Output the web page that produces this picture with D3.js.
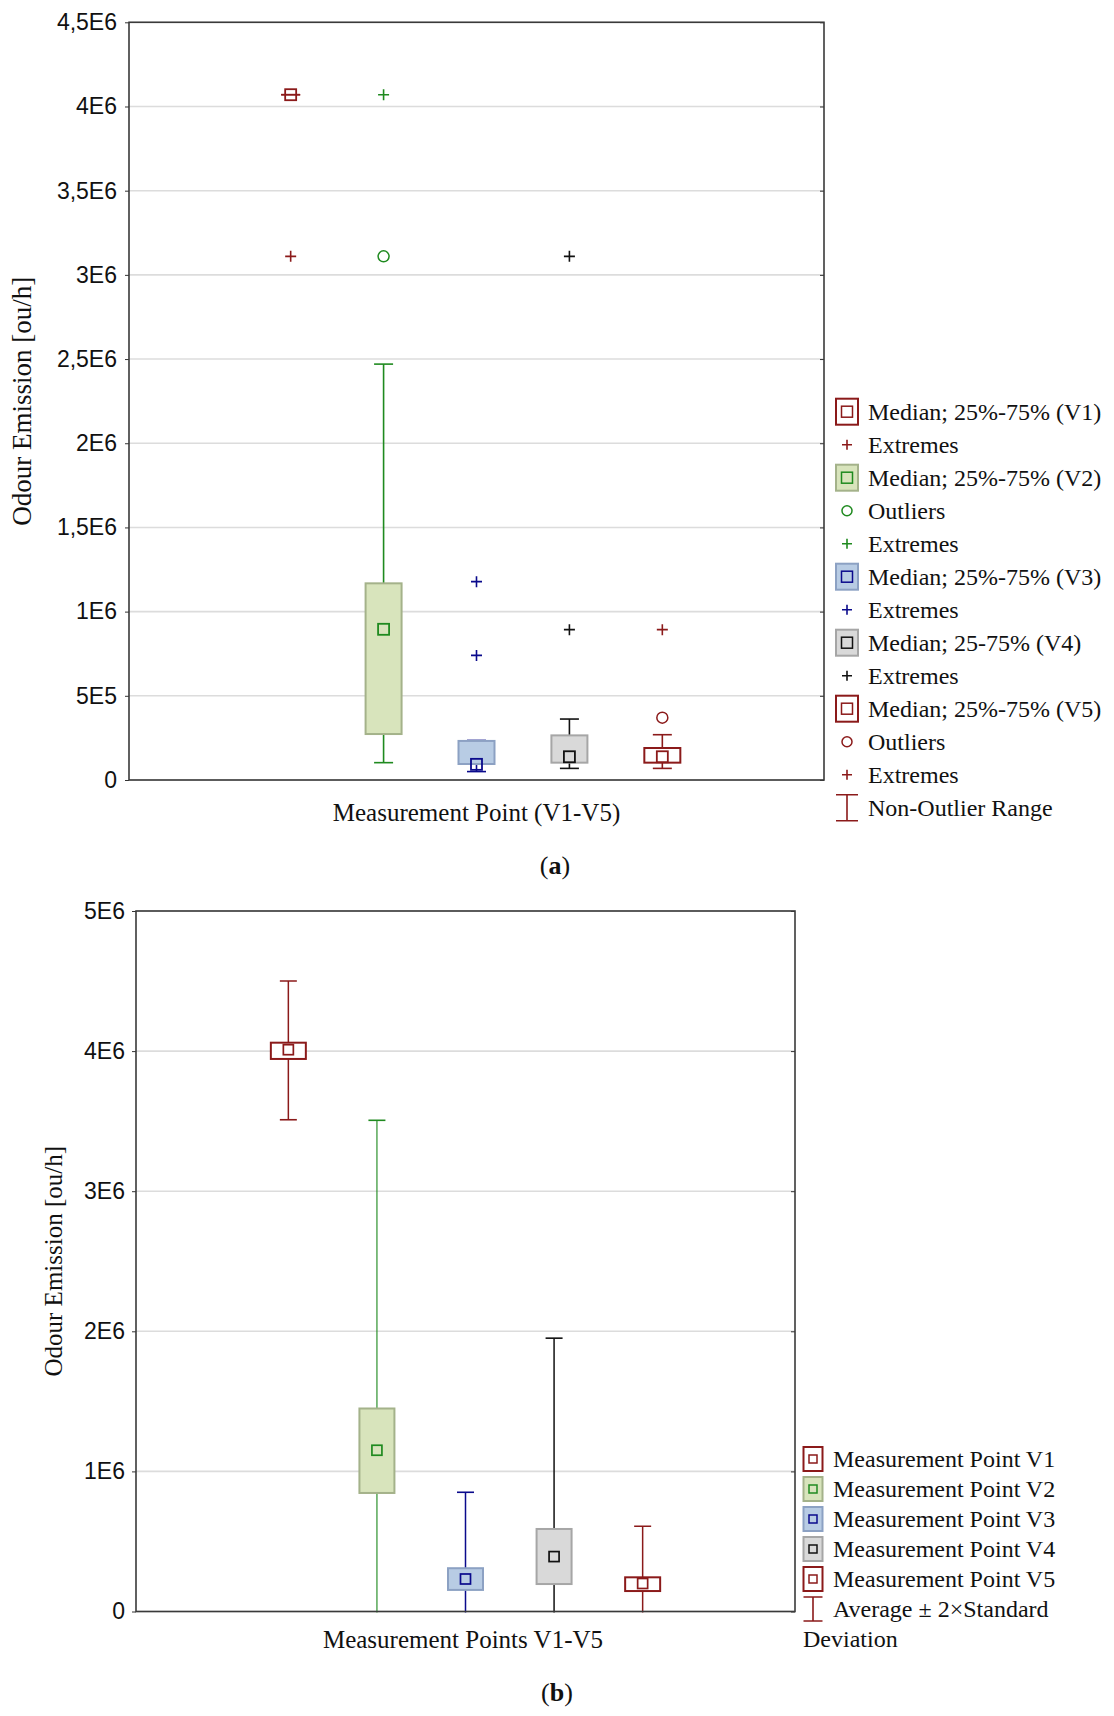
<!DOCTYPE html>
<html>
<head>
<meta charset="utf-8">
<script src="https://cdn.jsdelivr.net/npm/d3@7"></script>
<style>
  body { margin: 0; background: #fff; }
  .tick text { font-family: "Liberation Sans", Arial, sans-serif; font-size: 23px; fill: #111; }
  .serif { font-family: "Liberation Serif", "Times New Roman", serif; fill: #111; }
</style>
</head>
<body>
<svg id="chart" width="1114" height="1716"></svg>
<script>
/* categories */
const points = ["V1", "V2", "V3", "V4", "V5"];

/* panel (a): median / quartiles / non-outlier range */
const aMedian = [4.07e6, 0.895e6, 0.093e6, 0.138e6, 0.138e6];
const aQ1 = [4.07e6, 0.273e6, 0.095e6, 0.103e6, 0.103e6];
const aQ3 = [4.07e6, 1.168e6, 0.232e6, 0.265e6, 0.19e6];
const aMin = [4.07e6, 0.103e6, 0.05e6, 0.069e6, 0.069e6];
const aMax = [4.07e6, 2.47e6, 0.235e6, 0.362e6, 0.269e6];
const aOutliers = [[], [3.11e6], [], [], [0.37e6]];
const aExtremes = [[3.11e6], [4.07e6], [1.178e6, 0.74e6], [3.11e6, 0.893e6], [0.893e6]];
const aTicks = [0, 5e5, 1e6, 1.5e6, 2e6, 2.5e6, 3e6, 3.5e6, 4e6, 4.5e6];
const aTickLabels = ["0", "5E5", "1E6", "1,5E6", "2E6", "2,5E6", "3E6", "3,5E6", "4E6", "4,5E6"];

/* panel (b): average, box, average +- 2 SD */
const bMean = [4.01e6, 1.151e6, 0.232e6, 0.392e6, 0.2e6];
const bBoxLow = [3.944e6, 0.846e6, 0.154e6, 0.196e6, 0.146e6];
const bBoxHigh = [4.06e6, 1.449e6, 0.309e6, 0.589e6, 0.244e6];
const bLow = [3.51e6, -1.204e6, -0.387e6, -1.167e6, -0.209e6];
const bHigh = [4.5e6, 3.506e6, 0.851e6, 1.951e6, 0.609e6];
const bTicks = [0, 1e6, 2e6, 3e6, 4e6, 5e6];
const bTickLabels = ["0", "1E6", "2E6", "3E6", "4E6", "5E6"];

/* legends */
const legendALabels = ["Median; 25%-75% (V1)", "Extremes", "Median; 25%-75% (V2)", "Outliers", "Extremes",
  "Median; 25%-75% (V3)", "Extremes", "Median; 25-75% (V4)", "Extremes", "Median; 25%-75% (V5)",
  "Outliers", "Extremes", "Non-Outlier Range"];
const legendATypes = ["box", "plus", "box", "circle", "plus", "box", "plus", "box", "plus", "box", "circle", "plus", "whisker"];
const legendAPoint = [0, 0, 1, 1, 1, 2, 2, 3, 3, 4, 4, 4, 4];
const legendBLabels = ["Measurement Point V1", "Measurement Point V2", "Measurement Point V3",
  "Measurement Point V4", "Measurement Point V5", "Average \u00b1 2\u00d7Standard"];
const legendBTypes = ["box", "box", "box", "box", "box", "whisker"];
const legendBPoint = [0, 1, 2, 3, 4, 4];

/* colours per measurement point */
const lineColors = ["#8b1a1a", "#1f8a1f", "#0a0a8c", "#111111", "#8b1a1a"];
const fillColors = ["#ffffff", "#d8e4bc", "#b8cce4", "#d9d9d9", "#ffffff"];
const borderColors = ["#8b1a1a", "#a4b28a", "#8ca1c3", "#a6a6a6", "#8b1a1a"];

const svg = d3.select("#chart");

function plus(g, x, y, s, color) {
  g.append("path")
    .attr("d", `M${x - s / 2},${y}H${x + s / 2}M${x},${y - s / 2}V${y + s / 2}`)
    .attr("stroke", color).attr("stroke-width", 1.6).attr("fill", "none");
}

function drawFrame(g, box, y, ticks, labels, padding) {
  // grid lines
  g.append("g").selectAll("line").data(ticks).join("line")
    .attr("x1", box.left).attr("x2", box.right)
    .attr("y1", d => y(d)).attr("y2", d => y(d))
    .attr("stroke", "#dcdcdc").attr("stroke-width", 1.6);
  // left axis with labels
  g.append("g")
    .attr("transform", `translate(${box.left},0)`)
    .call(d3.axisLeft(y).tickValues(ticks).tickFormat((d, i) => labels[i]).tickSize(4).tickPadding(padding))
    .call(a => a.select(".domain").remove())
    .call(a => a.selectAll(".tick line").attr("stroke", "#333"));
  // right ticks pointing in
  g.append("g")
    .attr("transform", `translate(${box.right},0)`)
    .call(d3.axisLeft(y).tickValues(ticks).tickFormat("").tickSize(4))
    .call(a => a.select(".domain").remove())
    .call(a => a.selectAll(".tick line").attr("stroke", "#333"));
}

function drawBorder(g, box) {
  g.append("rect")
    .attr("x", box.left).attr("y", box.top)
    .attr("width", box.right - box.left).attr("height", box.bottom - box.top)
    .attr("fill", "none").attr("stroke", "#3a3a3a").attr("stroke-width", 1.6);
}

/* ---------- panel (a) ---------- */
const boxA = { left: 129, right: 824, top: 22.3, bottom: 780 };
const xA = d3.scalePoint().domain(points).range([boxA.left, boxA.right]).padding(1.74);
const yA = d3.scaleLinear().domain([0, 4.5e6]).range([boxA.bottom, boxA.top]);
const gA = svg.append("g");
drawFrame(gA, boxA, yA, aTicks, aTickLabels, 8);

const bw = 36, cap = 19, med = 11;
points.forEach((p, i) => {
  const cx = xA(p), c = lineColors[i];
  const g = gA.append("g");
  // whisker
  g.append("line").attr("x1", cx).attr("x2", cx).attr("y1", yA(aMax[i])).attr("y2", yA(aMin[i]))
    .attr("stroke", c).attr("stroke-width", 1.6);
  [aMax[i], aMin[i]].forEach(v => g.append("line")
    .attr("x1", cx - cap / 2).attr("x2", cx + cap / 2).attr("y1", yA(v)).attr("y2", yA(v))
    .attr("stroke", c).attr("stroke-width", 1.6));
  // box (skip when collapsed)
  if (aQ3[i] > aQ1[i]) {
    g.append("rect").attr("x", cx - bw / 2).attr("y", yA(aQ3[i]))
      .attr("width", bw).attr("height", yA(aQ1[i]) - yA(aQ3[i]))
      .attr("fill", fillColors[i]).attr("stroke", borderColors[i]).attr("stroke-width", 2);
  }
  // median
  g.append("rect").attr("x", cx - med / 2).attr("y", yA(aMedian[i]) - med / 2)
    .attr("width", med).attr("height", med)
    .attr("fill", "none").attr("stroke", c).attr("stroke-width", 1.8);
  aOutliers[i].forEach(v => g.append("circle").attr("cx", cx).attr("cy", yA(v)).attr("r", 5.5)
    .attr("fill", "none").attr("stroke", c).attr("stroke-width", 1.5));
  aExtremes[i].forEach(v => plus(g, cx, yA(v), 11, c));
});
drawBorder(gA, boxA);

gA.append("text").attr("class", "serif")
  .attr("transform", `translate(31,${(boxA.top + boxA.bottom) / 2}) rotate(-90)`)
  .attr("text-anchor", "middle").attr("font-size", 27)
  .text("Odour Emission [ou/h]");
gA.append("text").attr("class", "serif")
  .attr("x", (boxA.left + boxA.right) / 2).attr("y", 821)
  .attr("text-anchor", "middle").attr("font-size", 25)
  .text("Measurement Point (V1-V5)");
gA.append("text").attr("class", "serif")
  .attr("x", 555).attr("y", 874).attr("text-anchor", "middle").attr("font-size", 26)
  .html('(<tspan font-weight="bold">a</tspan>)');

/* legend (a) */
function legendMarker(g, type, i, cx, cy, w, h, inner) {
  const c = lineColors[i];
  if (type === "box") {
    g.append("rect").attr("x", cx - w / 2).attr("y", cy - h / 2).attr("width", w).attr("height", h)
      .attr("fill", fillColors[i]).attr("stroke", borderColors[i]).attr("stroke-width", 2);
    g.append("rect").attr("x", cx - inner / 2).attr("y", cy - inner / 2).attr("width", inner).attr("height", inner)
      .attr("fill", "none").attr("stroke", c).attr("stroke-width", 1.5);
  } else if (type === "plus") {
    plus(g, cx, cy, 10, c);
  } else if (type === "circle") {
    g.append("circle").attr("cx", cx).attr("cy", cy).attr("r", 5).attr("fill", "none")
      .attr("stroke", c).attr("stroke-width", 1.5);
  } else {
    g.append("path")
      .attr("d", `M${cx - w / 2},${cy - h / 2}H${cx + w / 2}M${cx},${cy - h / 2}V${cy + h / 2}M${cx - w / 2},${cy + h / 2}H${cx + w / 2}`)
      .attr("stroke", c).attr("stroke-width", 1.6).attr("fill", "none");
  }
}

const legA = svg.append("g");
legendALabels.forEach((t, k) => {
  const cy = 411.7 + 33 * k;
  legendMarker(legA, legendATypes[k], legendAPoint[k], 847, cy, 22, 26, 11);
  legA.append("text").attr("class", "serif").attr("x", 868).attr("y", cy).attr("dy", "0.35em")
    .attr("font-size", 24).text(t);
});

/* ---------- panel (b) ---------- */
const boxB = { left: 136, right: 795, top: 911, bottom: 1611.5 };
const xB = d3.scalePoint().domain(points).range([boxB.left, boxB.right]).padding(1.72);
const yB = d3.scaleLinear().domain([0, 5e6]).range([boxB.bottom, boxB.top]);
const gB = svg.append("g");
drawFrame(gB, boxB, yB, bTicks, bTickLabels, 7);

svg.append("clipPath").attr("id", "clipB").append("rect")
  .attr("x", boxB.left).attr("y", boxB.top).attr("width", boxB.right - boxB.left).attr("height", boxB.bottom - boxB.top + 1);

const bw2 = 35, cap2 = 17, med2 = 10;
points.forEach((p, i) => {
  const cx = xB(p), c = lineColors[i];
  const g = gB.append("g").attr("clip-path", "url(#clipB)");
  g.append("line").attr("x1", cx).attr("x2", cx).attr("y1", yB(bHigh[i])).attr("y2", yB(bLow[i]))
    .attr("stroke", c).attr("stroke-width", 1.5).attr("stroke-opacity", i === 1 ? 0.75 : 1);
  [bHigh[i], bLow[i]].forEach(v => g.append("line")
    .attr("x1", cx - cap2 / 2).attr("x2", cx + cap2 / 2).attr("y1", yB(v)).attr("y2", yB(v))
    .attr("stroke", c).attr("stroke-width", 1.6));
  g.append("rect").attr("x", cx - bw2 / 2).attr("y", yB(bBoxHigh[i]))
    .attr("width", bw2).attr("height", yB(bBoxLow[i]) - yB(bBoxHigh[i]))
    .attr("fill", fillColors[i]).attr("stroke", borderColors[i]).attr("stroke-width", 2);
  g.append("rect").attr("x", cx - med2 / 2).attr("y", yB(bMean[i]) - med2 / 2)
    .attr("width", med2).attr("height", med2)
    .attr("fill", "none").attr("stroke", c).attr("stroke-width", 1.7);
});
drawBorder(gB, boxB);

gB.append("text").attr("class", "serif")
  .attr("transform", `translate(62,${(boxB.top + boxB.bottom) / 2}) rotate(-90)`)
  .attr("text-anchor", "middle").attr("font-size", 25)
  .text("Odour Emission [ou/h]");
gB.append("text").attr("class", "serif")
  .attr("x", 463).attr("y", 1648)
  .attr("text-anchor", "middle").attr("font-size", 25)
  .text("Measurement Points V1-V5");
gB.append("text").attr("class", "serif")
  .attr("x", 557).attr("y", 1701).attr("text-anchor", "middle").attr("font-size", 26)
  .html('(<tspan font-weight="bold">b</tspan>)');

/* legend (b) */
const legB = svg.append("g");
legendBLabels.forEach((t, k) => {
  const cy = 1459 + 30 * k;
  legendMarker(legB, legendBTypes[k], legendBPoint[k], 813, cy, 19, 24, 8);
  legB.append("text").attr("class", "serif").attr("x", 833).attr("y", cy).attr("dy", "0.35em")
    .attr("font-size", 24).text(t);
});
legB.append("text").attr("class", "serif").attr("x", 803).attr("y", 1459 + 30 * 6).attr("dy", "0.35em")
  .attr("font-size", 24).text("Deviation");
</script>
</body>
</html>
